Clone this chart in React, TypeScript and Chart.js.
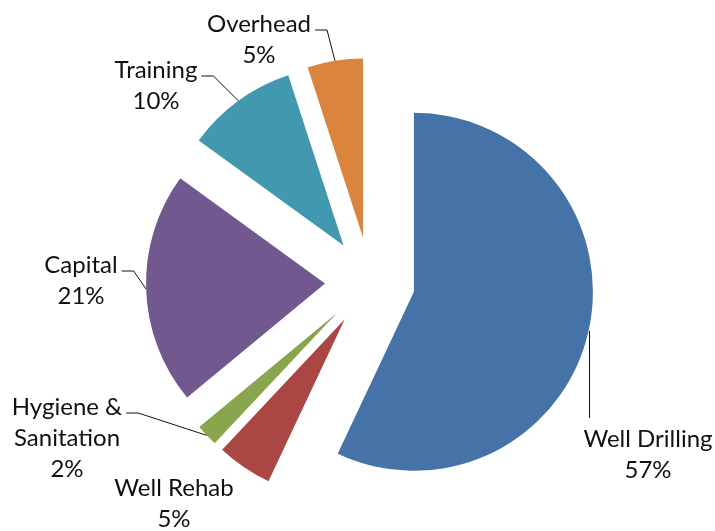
import React, { useEffect, useRef } from "react";
import { Chart, registerables } from "chart.js";

Chart.register(...registerables);

// ---- data ----
const categories = ["Well Drilling", "Well Rehab", "Hygiene & Sanitation", "Capital", "Training", "Overhead"];
const values = [57, 5, 2, 21, 10, 5];
const colors = ["#4572A7", "#AA4643", "#89A54E", "#71588F", "#4198AF", "#DB843D"];
const labelLines = [["Well Drilling"], ["Well Rehab"], ["Hygiene &", "Sanitation"], ["Capital"], ["Training"], ["Overhead"]];

// ---- layout (label placement, not data) ----
const RADIUS = 179;
const EXPLODE = 45; // px each slice is pulled out
const FONT_SIZE = 24;
const LINE_H = 31;
const labelLayout = [
  { x: 648, y: 447, leader: "vertical" },
  { x: 174, y: 496, leader: "none" },
  { x: 67, y: 415, leader: "elbow" },
  { x: 81, y: 273, leader: "elbow" },
  { x: 156, y: 78, leader: "elbow" },
  { x: 259, y: 32, leader: "elbow" },
];

// Chart.js shrinks exploded arcs (radius and angle); undo that so slices keep true geometry.
const explodeFix = {
  id: "explodeFix",
  beforeDatasetsDraw(chart: any) {
    const meta = chart.getDatasetMeta(0);
    meta.data.forEach((arc: any) => {
      const off = (arc.options.offset || 0) / 4;
      const circ = arc.circumference || 0;
      const fix = 1 - Math.sin(Math.min(Math.PI, circ));
      const radiusOffset = off * fix;
      arc.outerRadius = RADIUS - radiusOffset;
      const mid = (arc.startAngle + arc.endAngle) / 2;
      const widened = circ + radiusOffset / (Math.PI * RADIUS);
      arc.startAngle = mid - widened / 2;
      arc.endAngle = mid + widened / 2;
    });
  },
};

const labelsPlugin = {
  id: "pieLabels",
  afterDatasetsDraw(chart: any) {
    const ctx = chart.ctx;
    const meta = chart.getDatasetMeta(0);
    const total = values.reduce((a, b) => a + b, 0);
    ctx.save();
    ctx.font = `${FONT_SIZE}px Lato, "Open Sans", sans-serif`;
    ctx.fillStyle = "#111";
    ctx.strokeStyle = "#111";
    ctx.lineWidth = 1;
    ctx.textAlign = "center";
    ctx.textBaseline = "alphabetic";
    meta.data.forEach((arc: any, i: number) => {
      const off = (arc.options.offset || 0) / 4;
      const h = (arc.startAngle + arc.endAngle) / 2;
      const vx = arc.x + Math.cos(h) * off;
      const vy = arc.y + Math.sin(h) * off;
      const px = vx + Math.cos(h) * RADIUS;
      const py = vy + Math.sin(h) * RADIUS;
      const lay = labelLayout[i];
      const lines = [...labelLines[i], Math.round((values[i] / total) * 100) + "%"];
      lines.forEach((t, k) => ctx.fillText(t, lay.x, lay.y + k * LINE_H));
      ctx.beginPath();
      if (lay.leader === "elbow") {
        const w = ctx.measureText(lines[0]).width;
        const sx = lay.x + w / 2 + 4;
        const sy = lay.y - 2;
        ctx.moveTo(sx, sy);
        ctx.lineTo(sx + 12, sy);
        ctx.lineTo(px, py);
        ctx.stroke();
      } else if (lay.leader === "vertical") {
        const x = Math.round(px) + 0.5;
        ctx.moveTo(x, py);
        ctx.lineTo(x, lay.y - 29);
        ctx.stroke();
      }
    });
    ctx.restore();
  },
};

export default function App() {
  const ref = useRef<HTMLCanvasElement | null>(null);
  useEffect(() => {
    document.body.style.margin = "0";
    const chart = new Chart(ref.current as HTMLCanvasElement, {
      type: "pie",
      data: {
        labels: categories,
        datasets: [
          {
            data: values,
            backgroundColor: colors,
            borderWidth: 0,
            offset: EXPLODE * 4,
            radius: RADIUS,
            clip: false,
          } as any,
        ],
      },
      options: {
        responsive: false,
        animation: false,
        events: [],
        layout: { padding: { left: 25, top: 33, right: 0, bottom: 0 } },
        plugins: { legend: { display: false }, tooltip: { enabled: false } },
      },
      plugins: [explodeFix, labelsPlugin],
    });
    return () => chart.destroy();
  }, []);
  return (
    <div style={{ width: 715, height: 531, background: "#fff" }}>
      <canvas ref={ref} width={715} height={531} />
    </div>
  );
}
